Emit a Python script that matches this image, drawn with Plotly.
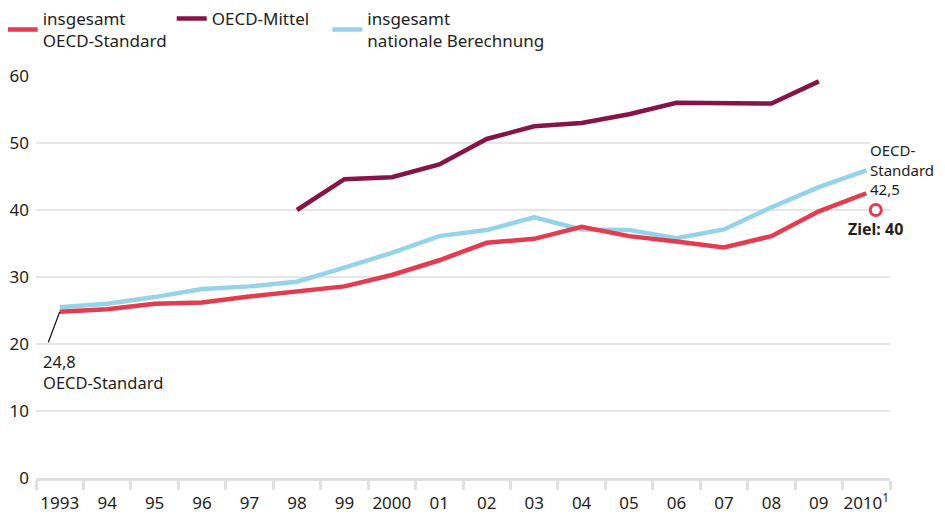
import plotly.graph_objects as go

# data
years = list(range(1993, 2011))
year_labels = ["1993", "94", "95", "96", "97", "98", "99", "2000", "01", "02",
               "03", "04", "05", "06", "07", "08", "09", "2010<sup>1</sup>"]

oecd_standard = [24.8, 25.2, 26.0, 26.2, 27.1, 27.8, 28.6, 30.3, 32.5, 35.1,
                 35.7, 37.5, 36.1, 35.3, 34.4, 36.1, 39.8, 42.5]
national = [25.5, 26.0, 27.0, 28.2, 28.6, 29.3, 31.4, 33.6, 36.1, 37.0,
            38.9, 37.1, 37.0, 35.8, 37.1, 40.4, 43.4, 45.9]
oecd_mittel = [None, None, None, None, None, 40.0, 44.6, 44.9, 46.8, 50.6,
               52.5, 53.0, 54.3, 56.0, 56.0, 55.9, 59.2, None]
goal_value = 40

y_ticks = [0, 10, 20, 30, 40, 50, 60]

RED = "#e63a4f"
PURPLE = "#871446"
BLUE = "#95d3eb"
GRID = "#e6e6e6"
TEXT = "#1e1e1e"
FONT = "Noto Sans"

fig = go.Figure()

# blue drawn first so the red line sits on top where they cross
fig.add_trace(go.Scatter(
    x=years, y=national, mode="lines",
    name="insgesamt<br>nationale Berechnung",
    line=dict(color=BLUE, width=4.5), legendrank=3))

fig.add_trace(go.Scatter(
    x=years, y=oecd_mittel, mode="lines",
    name="OECD-Mittel&nbsp;&nbsp;&nbsp;",
    line=dict(color=PURPLE, width=4.5), legendrank=2))

fig.add_trace(go.Scatter(
    x=years, y=oecd_standard, mode="lines",
    name="insgesamt<br>OECD-Standard",
    line=dict(color=RED, width=4.5), legendrank=1))

# target marker, nudged a little right of the 2010 point
fig.add_trace(go.Scatter(
    x=[years[-1] + 0.2], y=[goal_value], mode="markers",
    marker=dict(size=11, color="white", line=dict(color=RED, width=3)),
    showlegend=False, cliponaxis=False))

# labels
fig.add_annotation(
    x=years[-1], y=oecd_standard[-1], xref="x", yref="y",
    text="OECD-<br>Standard<br>42,5", showarrow=False,
    xanchor="left", yanchor="bottom", align="left",
    xshift=3, yshift=-7, bgcolor="white", borderpad=0,
    font=dict(family=FONT, size=15, color=TEXT))

fig.add_annotation(
    x=years[-1] + 0.2, y=goal_value, xref="x", yref="y",
    text="<b>Ziel: 40</b>", showarrow=False,
    xanchor="center", yanchor="top", yshift=-6,
    font=dict(family=FONT, size=16, color=TEXT))

fig.add_annotation(
    x=years[0], y=oecd_standard[0], xref="x", yref="y",
    text="", showarrow=True, arrowhead=0, arrowwidth=1.2,
    arrowcolor="black", ax=-12, ay=32, standoff=0)

fig.add_annotation(
    x=years[0], y=oecd_standard[0], xref="x", yref="y",
    text="24,8<br>OECD-Standard", showarrow=False,
    xanchor="left", yanchor="top", align="left",
    xshift=-19, yshift=-36,
    font=dict(family=FONT, size=16.5, color=TEXT))

# page body adds an 8px offset, margins are set to compensate
fig.update_layout(
    width=945, height=514,
    margin=dict(l=28, r=63, t=68, b=44, autoexpand=False),
    paper_bgcolor="white", plot_bgcolor="white",
    font=dict(family=FONT, size=16, color=TEXT),
    showlegend=True,
    legend=dict(
        orientation="h",
        x=-0.039, xanchor="left", y=1.187, yanchor="top",
        font=dict(family=FONT, size=17, color=TEXT),
        valign="middle", itemwidth=30, tracegroupgap=0),
    xaxis=dict(
        range=[1992.5, 2010.5], automargin=False,
        tickvals=years, ticktext=year_labels,
        ticks="outside", ticklen=8, tickcolor="rgba(0,0,0,0)",
        showgrid=False, zeroline=False,
        showline=True, linecolor="#e0e0e0", linewidth=3,
        minor=dict(
            tickvals=[y - 0.5 for y in years] + [years[-1] + 0.5],
            ticks="outside", ticklen=9, tickwidth=3, tickcolor="#e0e0e0",
            showgrid=False),
        tickfont=dict(family=FONT, size=17, color=TEXT)),
    yaxis=dict(
        range=[0, 60], tickvals=y_ticks, automargin=False,
        showgrid=True, gridcolor=GRID, gridwidth=2,
        zeroline=False, ticks="", ticklabelstandoff=6,
        tickfont=dict(family=FONT, size=17, color=TEXT)),
)

fig.write_html("out.html")
